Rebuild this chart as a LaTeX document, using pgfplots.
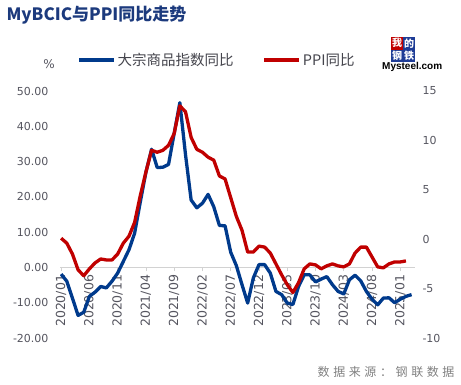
\documentclass[border=0pt]{standalone}
\usepackage{pgfplots}
\pgfplotsset{compat=1.18}
\usepackage{fontspec}
\setmainfont{DejaVu Sans}
\newfontfamily\cjk{Noto Sans CJK SC}
\newfontfamily\cjkspaced[LetterSpace=30]{Noto Sans CJK SC}
\newfontfamily\arial{Liberation Sans}
\definecolor{bcblue}{RGB}{0,58,140}
\definecolor{ppired}{RGB}{192,0,0}
\definecolor{titleblue}{RGB}{28,58,125}
\definecolor{ticktext}{RGB}{85,85,95}
\definecolor{axisgray}{RGB}{210,210,210}
\definecolor{logoblue}{RGB}{30,60,150}
\begin{document}
\begin{tikzpicture}
\useasboundingbox (0,0) rectangle (461bp,-385bp);
\begin{axis}[
  at={(60bp,-338bp)}, anchor=south west,
  scale only axis, width=355bp, height=247bp,
  xmin=-0.2, xmax=62.6, ymin=-20, ymax=50,
  axis x line*=middle, axis y line*=left,
  y axis line style={draw=none},
  x axis line style={draw=axisgray, line width=0.8bp, -},
  every inner x axis line/.append style={-},
  ytick={-20,-10,...,50},
  ytick style={draw=none},
  xtick={0,5,...,60},
  xticklabels={2020/01,2020/06,2020/11,2021/04,2021/09,2022/02,2022/07,2022/12,2023/05,2023/10,2024/03,2024/08,2025/01},
  xtick style={draw=axisgray, line width=0.8bp},
  tick align=outside, major tick length=4bp,
  xticklabel style={rotate=90, anchor=east, font=\fontsize{12.5bp}{14bp}\selectfont, text=ticktext},
  yticklabel style={font=\fontsize{11bp}{13bp}\selectfont, text=ticktext, xshift=-4bp,
    /pgf/number format/fixed, /pgf/number format/fixed zerofill, /pgf/number format/precision=2},
  /pgf/number format/assume math mode=true,
  legend style={draw=none, fill=none, at={(axis description cs:0.04,1.125)}, anchor=west,
    font=\cjk\fontsize{14.5bp}{16bp}\selectfont, text=ticktext!80!black},
  legend columns=2,
  legend cell align=left,
  legend style={/tikz/every even column/.append style={column sep=27bp}},
  legend image code/.code={\draw[#1] (0bp,0bp) -- (35bp,0bp);},
]
\addplot[bcblue, line width=3.3bp, line join=round] coordinates {
(0,-1.9)(1,-3.9)(2,-8.7)(3,-13.6)(4,-12.7)(5,-8.2)(6,-7.0)(7,-5.4)(8,-5.8)(9,-3.9)
(10,-1.6)(11,1.7)(12,5.0)(13,9.7)(14,18.5)(15,27.0)(16,33.5)(17,28.3)(18,28.4)(19,29.2)
(20,38.0)(21,46.7)(22,32.0)(23,19.1)(24,16.9)(25,18.2)(26,20.7)(27,17.2)(28,11.9)(29,11.8)
(30,4.3)(31,0.5)(32,-4.9)(33,-10.1)(34,-3.0)(35,0.8)(36,0.8)(37,-1.6)(38,-6.8)(39,-7.7)
(40,-10.1)(41,-10.5)(42,-5.4)(43,-2.1)(44,-2.1)(45,-4.1)(46,-3.3)(47,-2.6)(48,-4.9)(49,-6.8)
(50,-7.5)(51,-3.5)(52,-2.2)(53,-3.8)(54,-6.8)(55,-9.0)(56,-10.6)(57,-8.7)(58,-8.6)(59,-10.0)
(60,-9.0)(61,-8.2)(62,-7.7)
};
\addlegendentry{大宗商品指数同比}
\addlegendimage{ppired, line width=3.3bp}
\addlegendentry{PPI同比}
\end{axis}
\begin{axis}[
  at={(60bp,-338bp)}, anchor=south west,
  scale only axis, width=355bp, height=247bp,
  xmin=-0.2, xmax=62.6, ymin=-10, ymax=15,
  axis x line=none, axis y line*=right,
  y axis line style={draw=none},
  ytick={-10,-5,...,15},
  ytick style={draw=none},
  yticklabel style={font=\fontsize{11bp}{13bp}\selectfont, text=ticktext, xshift=4bp},
  /pgf/number format/assume math mode=true,
]
\addplot[ppired, line width=3.3bp, line join=round] coordinates {
(0,0.1)(1,-0.4)(2,-1.5)(3,-3.1)(4,-3.7)(5,-3.0)(6,-2.4)(7,-2.0)(8,-2.1)(9,-2.1)
(10,-1.5)(11,-0.4)(12,0.3)(13,1.7)(14,4.4)(15,6.8)(16,9.0)(17,8.8)(18,9.0)(19,9.5)
(20,10.7)(21,13.5)(22,12.9)(23,10.3)(24,9.1)(25,8.8)(26,8.3)(27,8.0)(28,6.4)(29,6.1)
(30,4.2)(31,2.3)(32,0.9)(33,-1.3)(34,-1.3)(35,-0.7)(36,-0.8)(37,-1.4)(38,-2.5)(39,-3.6)
(40,-4.6)(41,-5.4)(42,-4.4)(43,-3.0)(44,-2.5)(45,-2.6)(46,-3.0)(47,-2.7)(48,-2.5)(49,-2.7)
(50,-2.8)(51,-2.5)(52,-1.4)(53,-0.8)(54,-0.8)(55,-1.8)(56,-2.8)(57,-2.9)(58,-2.5)(59,-2.3)
(60,-2.3)(61,-2.2)
};
\end{axis}
\node[anchor=west, font=\cjk\bfseries\fontsize{17bp}{19bp}\selectfont, text=titleblue] at (3bp,-15bp) {MyBCIC与PPI同比走势};
\node[font=\fontsize{12bp}{14bp}\selectfont, text=ticktext] at (49bp,-64bp) {\%};
\node[anchor=east, font=\cjkspaced\fontsize{12bp}{14bp}\selectfont, text=gray] at (458bp,-372bp) {数据来源：钢联数据};
\fill[ppired] (391bp,-37bp) rectangle (403bp,-49.5bp);
\fill[logoblue] (403bp,-37bp) rectangle (415bp,-49.5bp);
\fill[logoblue] (391bp,-49.5bp) rectangle (415bp,-62bp);
\node[text=white, font=\cjk\bfseries\fontsize{10bp}{10bp}\selectfont, inner sep=0pt] at (397bp,-43.2bp) {我};
\node[text=white, font=\cjk\bfseries\fontsize{10bp}{10bp}\selectfont, inner sep=0pt] at (409bp,-43.2bp) {的};
\node[text=white, font=\cjk\bfseries\fontsize{10bp}{10bp}\selectfont, inner sep=0pt] at (397bp,-55.7bp) {钢};
\node[text=white, font=\cjk\bfseries\fontsize{10bp}{10bp}\selectfont, inner sep=0pt] at (409bp,-55.7bp) {铁};
\node[anchor=west, font=\arial\bfseries\fontsize{10bp}{12bp}\selectfont, inner sep=0pt] at (382bp,-67bp) {Mysteel.com};
\end{tikzpicture}
\end{document}
